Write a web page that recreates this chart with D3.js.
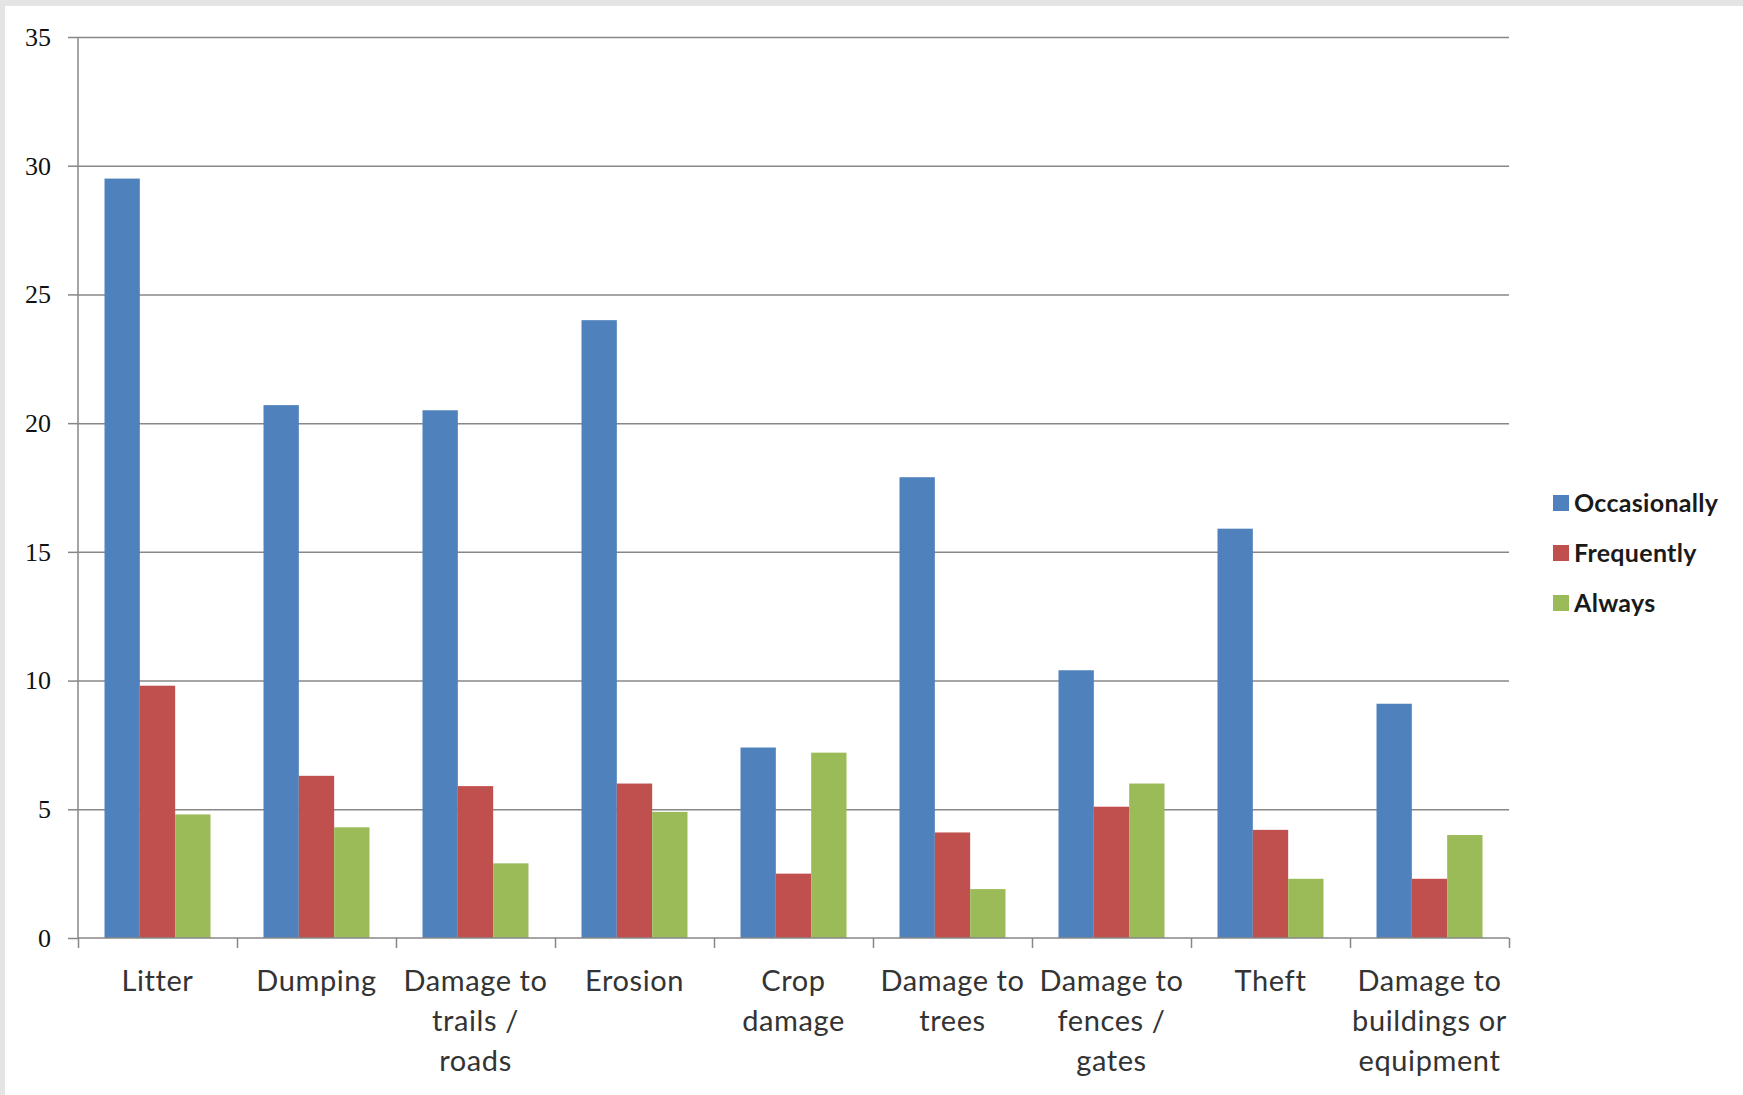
<!DOCTYPE html>
<html>
<head>
<meta charset="utf-8">
<script src="https://cdn.jsdelivr.net/npm/d3@7"></script>
<style>
    html, body { margin: 0; padding: 0; background: #fff; }
    svg { display: block; }
</style>
</head>
<body>
<svg id="chart" width="1743" height="1095"></svg>
<script>
// categories, as written under the axis (line breaks as in the picture)
const categories = ["Litter", "Dumping", "Damage to trails / roads", "Erosion", "Crop damage",
    "Damage to trees", "Damage to fences / gates", "Theft", "Damage to buildings or equipment"];
const categoryLines = [
    ["Litter"], ["Dumping"], ["Damage to", "trails /", "roads"], ["Erosion"], ["Crop", "damage"],
    ["Damage to", "trees"], ["Damage to", "fences /", "gates"], ["Theft"],
    ["Damage to", "buildings or", "equipment"]
];

// series
const seriesNames = ["Occasionally", "Frequently", "Always"];
const occasionally = [29.5, 20.7, 20.5, 24.0, 7.4, 17.9, 10.4, 15.9, 9.1];
const frequently = [9.8, 6.3, 5.9, 6.0, 2.5, 4.1, 5.1, 4.2, 2.3];
const always = [4.8, 4.3, 2.9, 4.9, 7.2, 1.9, 6.0, 2.3, 4.0];

// y ticks
const yTicks = [0, 5, 10, 15, 20, 25, 30, 35];

/**
 * Basic sizes and Elements
 */
const plot = {left: 78, right: 1509, top: 37, bottom: 938};
const colors = ["#4f81bd", "#c0504d", "#9bbb59"];
const axisColor = "#878787";

const svg = d3.select("#chart");

// grey strip along the top and left edge of the screenshot
svg.append("rect").attr("x", 0).attr("y", 0).attr("width", 1743).attr("height", 6).attr("fill", "#e4e4e4");
svg.append("rect").attr("x", 0).attr("y", 0).attr("width", 5).attr("height", 1095).attr("fill", "#e4e4e4");

const table = categories.map((c, i) => ({
    category: c,
    lines: categoryLines[i],
    values: [occasionally[i], frequently[i], always[i]]
}));

/**
 * Scales
 */
const xScale = d3.scaleBand().domain(categories).range([plot.left, plot.right]).padding(0);
const xInner = d3.scaleBand().domain(seriesNames).range([0, xScale.bandwidth()])
    .paddingInner(0).paddingOuter(0.75);
const yScale = d3.scaleLinear().domain([0, 35]).range([plot.bottom, plot.top]);
const boundaryScale = d3.scaleLinear().domain([0, categories.length]).range([plot.left, plot.right]);

/**
 * Grid lines
 */
const grid = svg.append("g")
    .attr("transform", `translate(${plot.left}, 0)`)
    .call(d3.axisLeft(yScale).tickValues(yTicks.filter(t => t > 0))
        .tickSize(-(plot.right - plot.left)).tickFormat(""));
grid.select(".domain").remove();
grid.selectAll("line").attr("stroke", axisColor).attr("stroke-width", 1.5);

/**
 * Bars
 */
const groups = svg.append("g").selectAll("g")
    .data(table)
    .join("g")
    .attr("transform", d => `translate(${xScale(d.category)}, 0)`);

groups.selectAll("rect")
    .data(d => d.values.map((v, i) => ({series: seriesNames[i], value: v, color: colors[i]})))
    .join("rect")
    .attr("x", d => xInner(d.series))
    .attr("width", xInner.bandwidth())
    .attr("y", d => yScale(d.value))
    .attr("height", d => yScale(0) - yScale(d.value))
    .attr("fill", d => d.color);

/**
 * Axes
 */
const yAxis = svg.append("g")
    .attr("transform", `translate(${plot.left}, 0)`)
    .call(d3.axisLeft(yScale).tickValues(yTicks).tickSize(10).tickPadding(17));
yAxis.select(".domain").attr("stroke", axisColor).attr("stroke-width", 1.5)
    .attr("d", `M0,${plot.bottom}V${plot.top}`);
yAxis.selectAll(".tick line").attr("stroke", axisColor).attr("stroke-width", 1.5);
yAxis.selectAll(".tick text")
    .attr("font-family", "'Liberation Serif', 'DejaVu Serif', serif")
    .attr("font-size", 26)
    .attr("fill", "#111");

const xAxis = svg.append("g")
    .attr("transform", `translate(0, ${plot.bottom})`)
    .call(d3.axisBottom(boundaryScale).tickValues(d3.range(categories.length + 1))
        .tickSize(10).tickFormat(""));
xAxis.select(".domain").attr("stroke", axisColor).attr("stroke-width", 1.5)
    .attr("d", `M${plot.left},0H${plot.right}`);
xAxis.selectAll(".tick line").attr("stroke", axisColor).attr("stroke-width", 1.5);

// category labels
const labels = svg.append("g")
    .attr("font-family", "Lato, 'Open Sans', sans-serif")
    .attr("font-size", 29)
    .attr("letter-spacing", 0.6)
    .attr("fill", "#333")
    .attr("text-anchor", "middle");

labels.selectAll("text")
    .data(table)
    .join("text")
    .attr("x", d => xScale(d.category) + xScale.bandwidth() / 2)
    .attr("y", 991)
    .selectAll("tspan")
    .data(d => d.lines)
    .join("tspan")
    .attr("x", function () { return d3.select(this.parentNode).attr("x"); })
    .attr("dy", (d, i) => i === 0 ? 0 : 40)
    .text(d => d);

/**
 * Legend
 */
const legend = svg.append("g").selectAll("g")
    .data(seriesNames)
    .join("g")
    .attr("transform", (d, i) => `translate(1553, ${503 + i * 50})`);

legend.append("rect")
    .attr("x", 0).attr("y", -8)
    .attr("width", 16).attr("height", 16)
    .attr("fill", (d, i) => colors[i]);

legend.append("text")
    .attr("x", 21)
    .attr("y", 0)
    .attr("dy", "0.35em")
    .attr("font-family", "Lato, 'Open Sans', sans-serif")
    .attr("font-weight", "bold")
    .attr("font-size", 25)
    .attr("letter-spacing", 0.3)
    .attr("fill", "#1a1a1a")
    .text(d => d);
</script>
</body>
</html>
